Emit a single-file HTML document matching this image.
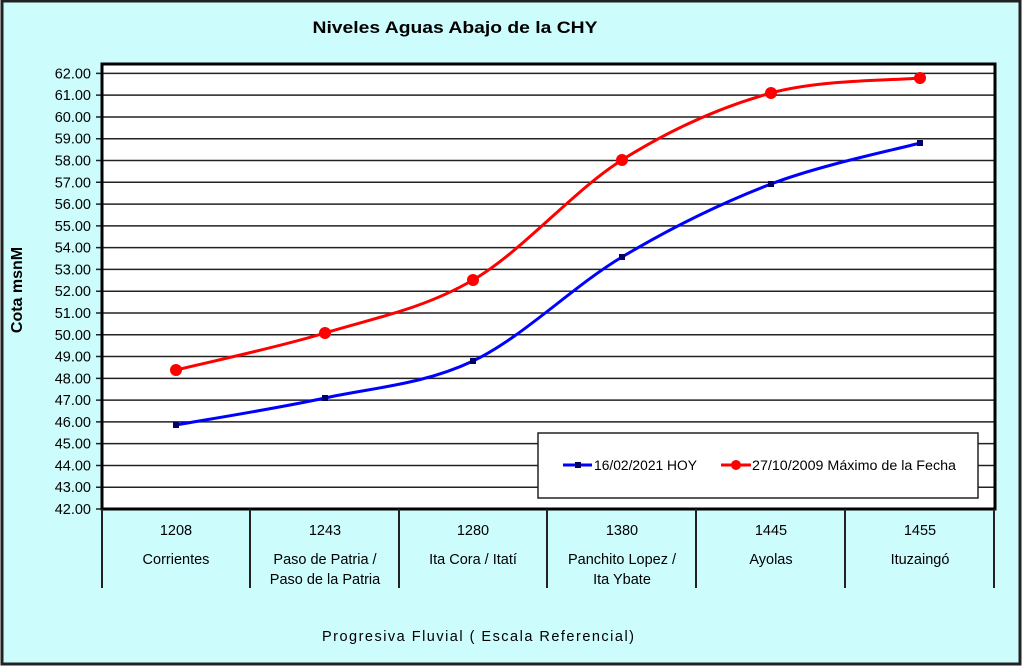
<!DOCTYPE html>
<html><head><meta charset="utf-8"><style>
html,body{margin:0;padding:0;background:#fff;}
svg{display:block;font-family:"Liberation Sans",sans-serif;}
</style></head><body>
<svg width="1024" height="667" viewBox="0 0 1024 667">
<rect x="2" y="1" width="1018" height="663" fill="#ccfcfc" stroke="#222" stroke-width="3"/>
<text x="455" y="33" font-size="17" font-weight="bold" text-anchor="middle" textLength="285" lengthAdjust="spacingAndGlyphs">Niveles Aguas Abajo de la CHY</text>
<rect x="102" y="64" width="893" height="445" fill="#fff"/>
<g stroke="#222" stroke-width="1.5" id="grid"></g>
<g id="g" font-size="14.5" text-anchor="end"></g>
<script>
var g=document.getElementById('grid'),t=document.getElementById('g'),ns="http://www.w3.org/2000/svg";
for(var v=42;v<=62;v++){var y=509-(v-42)*21.78;
var l=document.createElementNS(ns,'line');l.setAttribute('x1',96);l.setAttribute('x2',995);l.setAttribute('y1',y);l.setAttribute('y2',y);g.appendChild(l);
var tx=document.createElementNS(ns,'text');tx.setAttribute('x',91);tx.setAttribute('y',y+5);tx.textContent=v+'.00';t.appendChild(tx);}
</script>
<rect x="102" y="64" width="893" height="445" fill="none" stroke="#000" stroke-width="3"/>
<g stroke="#222" stroke-width="2">
<line x1="102" y1="509" x2="102" y2="588"/><line x1="250" y1="509" x2="250" y2="588"/><line x1="399" y1="509" x2="399" y2="588"/><line x1="547" y1="509" x2="547" y2="588"/><line x1="696" y1="509" x2="696" y2="588"/><line x1="845" y1="509" x2="845" y2="588"/><line x1="994" y1="509" x2="994" y2="588"/>
</g>
<g font-size="14.5" text-anchor="middle">
<text x="176" y="535">1208</text><text x="176" y="564">Corrientes</text>
<text x="325" y="535">1243</text><text x="325" y="564">Paso de Patria /</text><text x="325" y="584">Paso de la Patria</text>
<text x="473" y="535">1280</text><text x="473" y="564">Ita Cora / Itatí</text>
<text x="622" y="535">1380</text><text x="622" y="564">Panchito Lopez /</text><text x="622" y="584">Ita Ybate</text>
<text x="771" y="535">1445</text><text x="771" y="564">Ayolas</text>
<text x="920" y="535">1455</text><text x="920" y="564">Ituzaingó</text>
<text x="478" y="641" textLength="312" lengthAdjust="spacing">Progresiva Fluvial ( Escala Referencial)</text>
</g>
<text transform="translate(22,290) rotate(-90)" font-size="16" font-weight="bold" text-anchor="middle">Cota msnM</text>
<path d="M176,425 C201,420.5 275.5,408.7 325,398 C374.5,387.3 423.5,384.5 473,361 C522.5,337.5 572.5,286.5 622,257 C671.5,227.5 721.5,203 771,184 C820.5,165 895,149.8 920,143" fill="none" stroke="#0000ff" stroke-width="3"/>
<g fill="#000066"><rect x="173" y="422" width="6" height="6"/><rect x="322" y="395" width="6" height="6"/><rect x="470" y="358" width="6" height="6"/><rect x="619" y="254" width="6" height="6"/><rect x="768" y="181" width="6" height="6"/><rect x="917" y="140" width="6" height="6"/></g>
<path d="M176,370 C200.8,363.8 275.5,348 325,333 C374.5,318 423.5,308.8 473,280 C522.5,251.2 572.5,191.2 622,160 C671.5,128.8 721.5,106.7 771,93 C820.5,79.3 895,80.5 920,78" fill="none" stroke="#ff0000" stroke-width="3"/>
<g fill="#ff0000"><circle cx="176" cy="370" r="6"/><circle cx="325" cy="333" r="6"/><circle cx="473" cy="280" r="6"/><circle cx="622" cy="160" r="6"/><circle cx="771" cy="93" r="6"/><circle cx="920" cy="78" r="6"/></g>
<rect x="538" y="433" width="440" height="65" fill="#fff" stroke="#222" stroke-width="1.5"/>
<line x1="563" y1="465" x2="592" y2="465" stroke="#0000ff" stroke-width="3"/><rect x="575" y="462" width="6" height="6" fill="#000066"/>
<text x="594" y="470" font-size="13.5" textLength="103" lengthAdjust="spacingAndGlyphs">16/02/2021 HOY</text>
<line x1="721" y1="465" x2="751" y2="465" stroke="#ff0000" stroke-width="3"/><circle cx="736" cy="465" r="5" fill="#ff0000"/>
<text x="752" y="470" font-size="13.5" textLength="204" lengthAdjust="spacingAndGlyphs">27/10/2009 Máximo de la Fecha</text>
</svg>
</body></html>
